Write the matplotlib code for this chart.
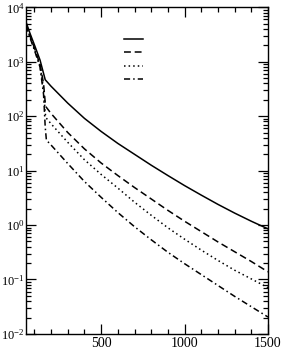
import numpy as np
import matplotlib
matplotlib.use("Agg")
import matplotlib.pyplot as plt
from matplotlib.ticker import MultipleLocator, LogLocator, NullFormatter

plt.rcParams['font.family'] = ['Liberation Serif', 'DejaVu Serif']
plt.rcParams['mathtext.fontset'] = 'stix'

# curves (x, log10 of y)
x_solid = [50, 74, 104, 134, 165, 200, 300, 400, 500, 600, 700, 800, 900, 1000, 1100, 1200, 1300, 1400, 1500]
log_solid = [3.73, 3.52, 3.28, 3.03, 2.67, 2.55, 2.24, 1.96, 1.72, 1.50, 1.30, 1.10, 0.91, 0.725, 0.55, 0.38, 0.22, 0.07, -0.07]

x_dash = [50, 74, 104, 134, 155, 165, 170, 200, 300, 400, 500, 600, 700, 800, 900, 1000, 1100, 1200, 1300, 1400, 1500]
log_dash = [3.70, 3.48, 3.22, 2.95, 2.60, 2.25, 2.17, 2.05, 1.70, 1.40, 1.14, 0.91, 0.69, 0.48, 0.27, 0.07, -0.12, -0.31, -0.49, -0.67, -0.86]

x_dot = [50, 74, 104, 134, 155, 165, 170, 200, 300, 400, 500, 600, 700, 800, 900, 1000, 1100, 1200, 1300, 1400, 1500]
log_dot = [3.68, 3.46, 3.20, 2.92, 2.50, 2.05, 1.97, 1.86, 1.52, 1.20, 0.93, 0.68, 0.42, 0.18, -0.05, -0.26, -0.46, -0.65, -0.83, -0.99, -1.15]

x_dd = [50, 74, 104, 134, 155, 165, 172, 200, 300, 400, 500, 600, 700, 800, 900, 1000, 1100, 1200, 1300, 1400, 1500]
log_dd = [3.66, 3.44, 3.18, 2.90, 2.40, 1.80, 1.56, 1.47, 1.13, 0.80, 0.51, 0.23, -0.03, -0.27, -0.50, -0.71, -0.91, -1.11, -1.31, -1.50, -1.69]

fig = plt.figure(figsize=(2.83, 3.5), dpi=100)
ax = fig.add_axes([0.092, 0.046, 0.855, 0.933])

h1, = ax.plot(x_solid, 10 ** np.array(log_solid), color='black', lw=1.1, ls='-')
h2, = ax.plot(x_dash, 10 ** np.array(log_dash), color='black', lw=1.1, ls=(0, (4.5, 2.5)))
h3, = ax.plot(x_dot, 10 ** np.array(log_dot), color='black', lw=1.1, ls=(0, (1, 2)))
h4, = ax.plot(x_dd, 10 ** np.array(log_dd), color='black', lw=1.1, ls=(0, (4, 2, 1, 2)))

ax.set_yscale('log')
ax.set_xlim(50, 1500)
ax.set_ylim(1e-2, 1e4)

ax.xaxis.set_major_locator(MultipleLocator(500))
ax.xaxis.set_minor_locator(MultipleLocator(100))
ax.yaxis.set_major_locator(LogLocator(base=10, numticks=10))
ax.yaxis.set_minor_locator(LogLocator(base=10, subs=np.arange(2, 10), numticks=20))
ax.yaxis.set_minor_formatter(NullFormatter())

ax.tick_params(which='both', direction='in', top=True, right=True)
ax.tick_params(axis='y', which='major', pad=1, labelsize=9)
ax.tick_params(axis='x', which='major', pad=2, labelsize=10)
ax.tick_params(which='major', length=7, width=0.9)
ax.tick_params(which='minor', length=3.5, width=0.9)
for s in ax.spines.values():
    s.set_linewidth(1.0)

ax.legend([h1, h2, h3, h4], ['', '', '', ''], frameon=False, loc='upper left',
          bbox_to_anchor=(0.405, 0.914), handlelength=1.96, labelspacing=0.45,
          handletextpad=0, borderpad=0, borderaxespad=0, fontsize=7)

fig.savefig('out.png', dpi=100)
